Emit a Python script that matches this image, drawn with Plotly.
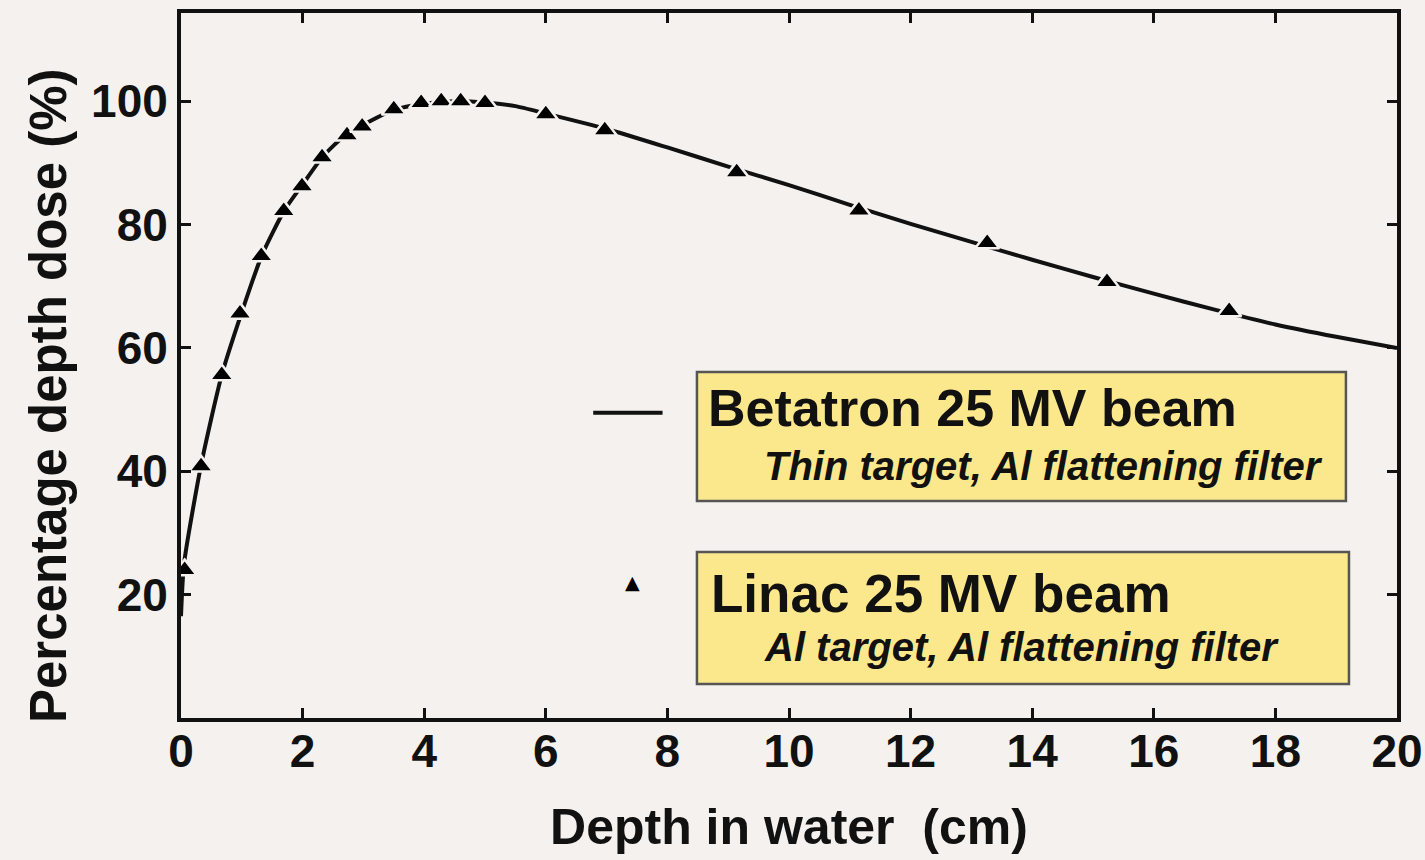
import plotly.graph_objects as go

# Betatron 25 MV beam (solid curve)
beta_depth = [0, 0.05, 0.33, 0.67, 1.0, 1.33, 1.7, 2.0, 2.33, 2.7, 3.0, 3.5, 4.0, 4.5,
              5.0, 5.5, 6, 7, 8, 9, 10, 11, 12, 13, 14, 15, 16, 17, 18, 19, 20]
beta_pdd = [16.5, 25, 41, 55.6, 65.8, 75, 82.3, 86.5, 91, 94.5, 96.2, 98.6, 99.6, 100,
            99.8, 99.2, 98, 95.5, 92.5, 89.4, 86.4, 83.2, 80.1, 77.2, 74.3, 71.5, 68.8,
            66.2, 63.8, 61.8, 60.0]

# Linac 25 MV beam (triangles)
linac_depth = [0.06, 0.33, 0.67, 0.97, 1.32, 1.69, 1.99, 2.32, 2.73, 2.98, 3.5, 3.95, 4.28,
               4.6, 5.0, 6.0, 6.97, 9.14, 11.15, 13.26, 15.23, 17.24]
linac_pdd = [24, 40.8, 55.6, 65.6, 74.9, 82.2, 86.2, 90.9, 94.5, 95.9, 98.7, 99.7, 100,
             100, 99.7, 97.9, 95.3, 88.5, 82.3, 77.0, 70.7, 66.0]

x_ticks = [0, 2, 4, 6, 8, 10, 12, 14, 16, 18, 20]
y_ticks = [20, 40, 60, 80, 100]

BG = "#f4f1ee"
FONT = "Liberation Sans, Arial, sans-serif"
INK = "#111111"

fig = go.Figure()
fig.add_trace(go.Scatter(x=beta_depth, y=beta_pdd, mode="lines",
                         line=dict(color=INK, width=4, shape="spline", smoothing=0.6),
                         showlegend=False, hoverinfo="skip"))
fig.add_trace(go.Scatter(x=linac_depth, y=linac_pdd, mode="markers",
                         marker=dict(symbol="triangle-up", size=21, color="#000000",
                                     line=dict(color=BG, width=2.5)),
                         showlegend=False, cliponaxis=True))

# legend boxes
box_line = dict(color="#555555", width=2.5)
fig.add_shape(type="rect", xref="paper", yref="paper", x0=0.4243, x1=0.958, y0=0.3078, y1=0.4908,
              fillcolor="#fce88c", line=box_line, layer="above")
fig.add_shape(type="rect", xref="paper", yref="paper", x0=0.4243, x1=0.9605, y0=0.0482, y1=0.2355,
              fillcolor="#fce88c", line=box_line, layer="above")
# legend symbols
fig.add_shape(type="line", xref="paper", yref="paper", x0=0.339, x1=0.396, y0=0.433, y1=0.433,
              line=dict(color=INK, width=4))
fig.add_annotation(xref="paper", yref="paper", x=0.371, y=0.193, xanchor="center", yanchor="middle",
                   text="▲", showarrow=False,
                   font=dict(size=19, color="#000000", family="DejaVu Sans"))

fig.add_annotation(xref="paper", yref="paper", x=0.432, y=0.4397, xanchor="left", yanchor="middle",
                   text="<b>Betatron 25 MV beam</b>", showarrow=False,
                   font=dict(size=52, color=INK, family=FONT))
fig.add_annotation(xref="paper", yref="paper", x=0.478, y=0.3574, xanchor="left", yanchor="middle",
                   text="<b><i>Thin target, Al flattening filter</i></b>", showarrow=False,
                   font=dict(size=40, color=INK, family=FONT))
fig.add_annotation(xref="paper", yref="paper", x=0.434, y=0.1773, xanchor="left", yanchor="middle",
                   text="<b>Linac 25 MV beam</b>", showarrow=False,
                   font=dict(size=53, color=INK, family=FONT))
fig.add_annotation(xref="paper", yref="paper", x=0.478, y=0.1007, xanchor="left", yanchor="middle",
                   text="<b><i>Al target, Al flattening filter</i></b>", showarrow=False,
                   font=dict(size=40, color=INK, family=FONT))

# y-axis title (placed as rotated text to match the original's vertical offset)
fig.add_annotation(xref="paper", yref="paper", x=-0.1094, y=0.458, xanchor="center", yanchor="middle",
                   text="<b>Percentage depth dose (%)</b>", textangle=-90, showarrow=False,
                   font=dict(size=51, color=INK, family=FONT))

axis_common = dict(showline=True, linecolor=INK, linewidth=4, mirror="allticks",
                   ticks="inside", ticklen=10, tickwidth=2.5, tickcolor=INK,
                   showgrid=False, zeroline=False, automargin=False,
                   ticklabeloverflow="allow",
                   tickfont=dict(size=46, color=INK, family=FONT))

fig.update_xaxes(range=[0, 20], tickvals=x_ticks, ticktext=[f"<b>{t}</b>" for t in x_ticks],
                 ticklabelstandoff=-10,
                 title=dict(text="<b>Depth in water  (cm)</b>", standoff=34,
                            font=dict(size=50, color=INK, family=FONT)),
                 **axis_common)
fig.update_yaxes(range=[0, 114.3], tickvals=y_ticks, ticktext=[f"<b>{t}</b>" for t in y_ticks],
                 **axis_common)

fig.update_layout(width=1425, height=860, paper_bgcolor=BG, plot_bgcolor=BG,
                  margin=dict(l=181, r=28, t=13, b=142), showlegend=False)

fig.write_html("out.html")
